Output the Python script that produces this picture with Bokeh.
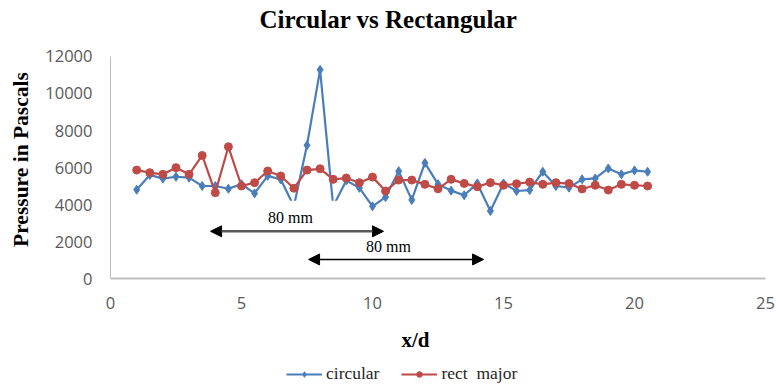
import math
from bokeh.plotting import figure
from bokeh.models import (Range1d, Legend, LegendItem, Arrow, NormalHead, Label,
                          BoxAnnotation, FixedTicker, ColumnDataSource)
from bokeh.embed import file_html
from bokeh.resources import INLINE

# ---- data ----
x_d = [1.0, 1.5, 2.0, 2.5, 3.0, 3.5, 4.0, 4.5, 5.0, 5.5,
       6.0, 6.5, 7.0, 7.5, 8.0, 8.5, 9.0, 9.5, 10.0, 10.5,
       11.0, 11.5, 12.0, 12.5, 13.0, 13.5, 14.0, 14.5, 15.0, 15.5,
       16.0, 16.5, 17.0, 17.5, 18.0, 18.5, 19.0, 19.5, 20.0, 20.5]
circular = [4800, 5600, 5400, 5500, 5450, 5000, 5000, 4850, 5100, 4600,
            5550, 5350, 3900, 7200, 11280, 3900, 5300, 4900, 3900, 4400,
            5800, 4250, 6250, 5100, 4750, 4500, 5140, 3650, 5140, 4730,
            4780, 5770, 5000, 4910, 5360, 5410, 5950, 5630, 5840, 5770]
rect_major = [5860, 5720, 5630, 5990, 5630, 6650, 4640, 7120, 5000, 5180,
              5810, 5540, 4880, 5860, 5930, 5360, 5430, 5180, 5480, 4730,
              5320, 5320, 5090, 4850, 5360, 5140, 4960, 5180, 5040, 5120,
              5210, 5090, 5180, 5130, 4840, 5040, 4780, 5090, 5040, 5000]
x_ticks = [0, 5, 10, 15, 20, 25]
y_ticks = [0, 2000, 4000, 6000, 8000, 10000, 12000]
series_names = ["circular", "rect  major"]
title_text = "Circular vs Rectangular"
x_label = "x/d"
y_label = "Pressure in Pascals"
span_label = "80 mm"

BLUE = "#4a7ebb"
RED = "#be4b48"

src = ColumnDataSource(dict(x=x_d, c=circular, r=rect_major))

# the frame spans the whole canvas; the ranges are padded so that the axes
# (0..25, 0..12000) sit where the original ones are, leaving room around them
p = figure(width=776, height=390, output_backend="svg", toolbar_location=None,
           x_range=Range1d(-4.198, 25.42), y_range=Range1d(-6054, 15027),
           min_border_left=0, min_border_right=0, min_border_top=0,
           min_border_bottom=0)

p.xgrid.visible = False
p.ygrid.visible = False
p.outline_line_color = None
p.background_fill_color = "white"
p.border_fill_color = "white"

for ax in (p.xaxis[0], p.yaxis[0]):
    ax.axis_line_color = "#bfbfbf"
    ax.major_tick_line_color = None
    ax.minor_tick_line_color = None
    ax.major_label_text_font = "Open Sans"
    ax.major_label_text_font_size = "16.5px"
    ax.major_label_text_color = "#595959"

p.xaxis.ticker = FixedTicker(ticks=x_ticks)
p.yaxis.ticker = FixedTicker(ticks=y_ticks)
p.xaxis.fixed_location = 0
p.yaxis.fixed_location = 0
p.xaxis.bounds = (0, 25)
p.yaxis.bounds = (0, 12000)
p.xaxis.axis_line_width = 2
p.xaxis.major_label_standoff = 12
p.yaxis.major_label_standoff = 12

lc = p.line("x", "c", source=src, line_color=BLUE, line_width=2.2)
sc = p.scatter("x", "c", source=src, marker="diamond", size=9,
               fill_color=BLUE, line_color=BLUE)
lr = p.line("x", "r", source=src, line_color=RED, line_width=2.2)
sr = p.scatter("x", "r", source=src, marker="circle", size=8,
               fill_color=RED, line_color=RED)

serif_bold = dict(text_font="Liberation Serif", text_font_style="bold",
                  text_color="#000000", text_align="center", text_baseline="middle")
# chart title and axis titles
p.add_layout(Label(x=10.61, y=14000, text=title_text, text_font_size="25px", **serif_bold))
p.add_layout(Label(x=11.64, y=-3351, text=x_label, text_font_size="21px", **serif_bold))
p.add_layout(Label(x=-3.40, y=6430, text=y_label, text_font_size="21.5px",
                   angle=math.pi / 2, **serif_bold))

# white text-box background of the upper annotation (hides the valleys as in the original)
p.add_layout(BoxAnnotation(left=5.34, right=8.97, bottom=2700, top=4200,
                           fill_color="white", fill_alpha=1.0, line_alpha=0))

p.add_layout(Label(x=6.87, y=3310, text=span_label, text_align="center",
                   text_baseline="middle", text_font="Liberation Serif",
                   text_font_size="16px", text_color="#000000"))
p.add_layout(Label(x=10.61, y=1750, text=span_label, text_align="center",
                   text_baseline="middle", text_font="Liberation Serif",
                   text_font_size="16px", text_color="#000000"))

p.add_layout(Arrow(x_start=3.82, y_start=2550, x_end=10.42, y_end=2550,
                   line_color="#595959", line_width=2.5,
                   start=NormalHead(size=11, fill_color="#000000", line_color="#000000"),
                   end=NormalHead(size=11, fill_color="#000000", line_color="#000000")))
p.add_layout(Arrow(x_start=7.56, y_start=1030, x_end=14.24, y_end=1030,
                   line_color="#000000", line_width=1.5,
                   start=NormalHead(size=11, fill_color="#000000", line_color="#000000"),
                   end=NormalHead(size=11, fill_color="#000000", line_color="#000000")))

legend = Legend(items=[LegendItem(label=series_names[0], renderers=[lc, sc]),
                       LegendItem(label=series_names[1], renderers=[lr, sr])],
                orientation="horizontal", location=(286, 6),
                glyph_width=36, glyph_height=14, label_height=14,
                label_standoff=4, spacing=22, padding=0, margin=0,
                border_line_color=None, background_fill_alpha=0,
                label_text_font="Liberation Serif", label_text_font_size="17.5px",
                label_text_color="#262626")
p.add_layout(legend, "center")

open("out.html", "w").write(file_html(p, INLINE))
